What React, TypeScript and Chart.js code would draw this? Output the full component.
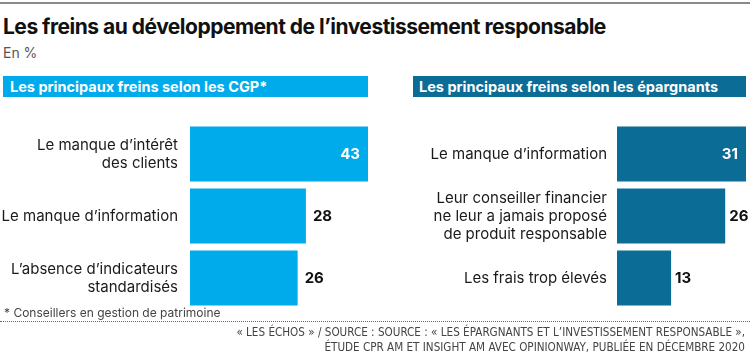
import React, { useEffect, useRef } from "react";
import { Chart, registerables } from "chart.js";

Chart.register(...registerables);

const leftCategories: (string | string[])[] = [
  ["Le manque d\u2019intérêt", "des clients"],
  "Le manque d\u2019information",
  ["L\u2019absence d\u2019indicateurs", "standardisés"],
];
const leftValues = [43, 28, 26];

const rightCategories: (string | string[])[] = [
  "Le manque d\u2019information",
  ["Leur conseiller financier", "ne leur a jamais proposé", "de produit responsable"],
  "Les frais trop élevés",
];
const rightValues = [31, 26, 13];

const LEFT_COLOR = "#00abec";
const RIGHT_COLOR = "#0b6c96";
const FONT = "Inter, 'Noto Sans', sans-serif";

function makeValueLabelPlugin(offset: number) {
  return {
    id: "valueLabels",
    afterDatasetsDraw(chart: any) {
      const ctx = chart.ctx;
      const meta = chart.getDatasetMeta(0);
      const data = chart.data.datasets[0].data as number[];
      const maxV = Math.max(...data);
      ctx.save();
      ctx.font = `bold 15px ${FONT}`;
      ctx.textBaseline = "middle";
      meta.data.forEach((bar: any, i: number) => {
        const v = data[i];
        if (v === maxV) {
          ctx.fillStyle = "#ffffff";
          ctx.textAlign = "right";
          ctx.fillText(String(v), bar.x - 8, bar.y);
        } else {
          ctx.fillStyle = "#111111";
          ctx.textAlign = "left";
          ctx.fillText(String(v), bar.x + offset, bar.y);
        }
      });
      ctx.restore();
    },
  };
}

function Panel(props: {
  categories: (string | string[])[];
  values: number[];
  color: string;
  axisWidth: number;
  padRight: number;
  tickPad: number;
  labelOffset: number;
  width: number;
  height: number;
}) {
  const ref = useRef<HTMLCanvasElement>(null);
  useEffect(() => {
    if (!ref.current) return;
    const maxV = Math.max(...props.values);
    const chart = new Chart(ref.current, {
      type: "bar",
      data: {
        labels: props.categories as any,
        datasets: [
          {
            data: props.values,
            backgroundColor: props.color,
            borderWidth: 0,
            barPercentage: 0.885,
            categoryPercentage: 1,
          },
        ],
      },
      options: {
        indexAxis: "y",
        animation: false,
        responsive: false,
        maintainAspectRatio: false,
        events: [],
        layout: { padding: { left: 0, right: props.padRight, top: 0, bottom: 0 } },
        plugins: { legend: { display: false }, tooltip: { enabled: false } },
        scales: {
          x: { display: false, min: 0, max: maxV },
          y: {
            afterFit: (scale: any) => {
              scale.width = props.axisWidth;
              scale.paddingTop = 0;
              scale.paddingBottom = 0;
            },
            grid: { display: false, drawTicks: false },
            border: { display: false },
            ticks: {
              padding: props.tickPad,
              color: "#1a1a1a",
              font: { family: FONT, size: 15, lineHeight: 1.2 },
            },
          },
        },
      },
      plugins: [makeValueLabelPlugin(props.labelOffset)],
    });
    return () => chart.destroy();
  }, []);
  return <canvas ref={ref} width={props.width} height={props.height} style={{ display: "block" }} />;
}

export default function App() {
  return (
    <div
      style={{
        position: "fixed",
        left: 0,
        top: 0,
        width: 750,
        height: 356,
        background: "#fff",
        overflow: "hidden",
        fontFamily: FONT,
      }}
    >
      <div style={{ position: "absolute", left: 0, top: 2, width: 750, height: 2, background: "#8a8a8a" }} />
      <div
        style={{
          position: "absolute",
          left: 3,
          top: 14,
          fontSize: 21,
          fontWeight: 700,
          color: "#111",
          whiteSpace: "nowrap",
          letterSpacing: -0.5,
        }}
      >
        Les freins au développement de l’investissement responsable
      </div>
      <div style={{ position: "absolute", left: 3, top: 44, fontSize: 14, color: "#555" }}>En %</div>

      <div
        style={{
          position: "absolute",
          left: 3,
          top: 76,
          width: 365,
          height: 21,
          background: LEFT_COLOR,
          color: "#fff",
          fontWeight: 700,
          fontSize: 14.5,
          lineHeight: "21px",
          paddingLeft: 7,
          boxSizing: "border-box",
          whiteSpace: "nowrap",
        }}
      >
        Les principaux freins selon les CGP*
      </div>
      <div
        style={{
          position: "absolute",
          left: 413,
          top: 76,
          width: 333,
          height: 21,
          background: RIGHT_COLOR,
          color: "#fff",
          fontWeight: 700,
          fontSize: 14.5,
          lineHeight: "21px",
          paddingLeft: 6,
          boxSizing: "border-box",
          whiteSpace: "nowrap",
        }}
      >
        Les principaux freins selon les épargnants
      </div>

      <div style={{ position: "absolute", left: 0, top: 123 }}>
        <Panel
          categories={leftCategories}
          values={leftValues}
          color={LEFT_COLOR}
          axisWidth={190}
          padRight={4}
          tickPad={12}
          labelOffset={7}
          width={372}
          height={186}
        />
      </div>
      <div style={{ position: "absolute", left: 380, top: 123 }}>
        <Panel
          categories={rightCategories}
          values={rightValues}
          color={RIGHT_COLOR}
          axisWidth={237}
          padRight={4}
          tickPad={10}
          labelOffset={4}
          width={370}
          height={186}
        />
      </div>

      <div style={{ position: "absolute", left: 4, top: 305, fontSize: 12, color: "#444" }}>
        * Conseillers en gestion de patrimoine
      </div>
      <div
        style={{
          position: "absolute",
          left: 0,
          top: 321,
          width: 750,
          height: 0,
          borderTop: "1px dotted #666",
        }}
      />
      <div
        style={{
          position: "absolute",
          right: 5,
          top: 325,
          textAlign: "right",
          fontSize: 11.6,
          lineHeight: "15px",
          color: "#444",
          fontFamily: "'Liberation Sans Narrow', 'DejaVu Sans Condensed', 'Roboto', sans-serif",
          fontStretch: "condensed",
          whiteSpace: "nowrap",
        }}
      >
        « LES ÉCHOS » / SOURCE : SOURCE : « LES ÉPARGNANTS ET L’INVESTISSEMENT RESPONSABLE »,
        <br />
        ÉTUDE CPR AM ET INSIGHT AM AVEC OPINIONWAY, PUBLIÉE EN DÉCEMBRE 2020
      </div>
    </div>
  );
}
